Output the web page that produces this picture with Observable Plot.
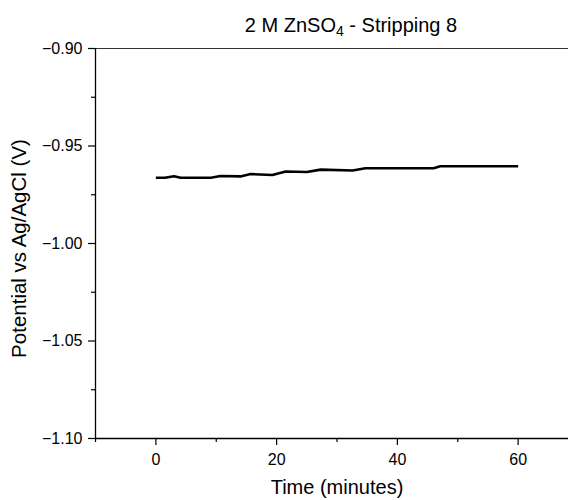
<!DOCTYPE html>
<html>
<head>
<meta charset="utf-8">
<script src="https://cdn.jsdelivr.net/npm/d3@7"></script>
<script src="https://cdn.jsdelivr.net/npm/@observablehq/plot@0.6"></script>
<style>
  html, body { margin: 0; padding: 0; overflow: hidden; background: #fff; }
  #wrap { position: relative; width: 568px; height: 500px; overflow: hidden; }
  #title {
    position: absolute; left: 151px; top: 15px; width: 400px;
    text-align: center; font: 20px "Liberation Sans", Arial, sans-serif;
    line-height: 20px; color: #000; z-index: 2;
  }
  #title sub { font-size: 70%; vertical-align: -0.3em; line-height: 0; }
</style>
</head>
<body>
<div id="wrap">
  <div id="title">2 M ZnSO<sub>4</sub> - Stripping 8</div>
</div>
<script>
// Stripping potential over time (minutes vs V against Ag/AgCl)
const times = [0, 1.5, 3.0, 4.1, 9.1, 10.7, 14.0, 15.7, 19.3, 21.5, 25.0, 27.3, 32.6, 34.7, 46.0, 47.1, 60];
const potentials = [-0.9663, -0.9663, -0.9655, -0.9663, -0.9663, -0.9654, -0.9656, -0.9644, -0.9649, -0.9631, -0.9633, -0.9621, -0.9626, -0.9614, -0.9614, -0.9604, -0.9604];

const xMajor = [0, 20, 40, 60];
const xMinor = [-10, 10, 30, 50, 70];
const yMajor = [-0.90, -0.95, -1.00, -1.05, -1.10];
const yMinor = [-0.925, -0.975, -1.025, -1.075];

const xLabel = "Time (minutes)";
const yLabel = "Potential vs Ag/AgCl (V)";

const data = times.map((t, i) => ({t, v: potentials[i]}));
const ink = "#000";

const chart = Plot.plot({
  width: 580,
  height: 500,
  marginLeft: 95,
  marginRight: 2,
  marginTop: 48,
  marginBottom: 62,
  style: {fontFamily: "'Liberation Sans', Arial, sans-serif", background: "transparent", color: ink},
  x: {domain: [-10, 70]},
  y: {domain: [-1.10, -0.90]},
  marks: [
    // frame
    Plot.ruleY([-0.90], {stroke: "#333", strokeWidth: 1.2}),
    Plot.ruleY([-1.10], {stroke: ink, strokeWidth: 1.3}),
    Plot.ruleX([-10], {stroke: ink, strokeWidth: 1.3}),
    Plot.ruleX([70], {stroke: "#333", strokeWidth: 1.2}),
    // axes
    Plot.axisY({ticks: yMajor, tickSize: 7, tickPadding: 6, tickFormat: d3.format(".2f"), fontSize: 16, label: null, strokeWidth: 1.2}),
    Plot.axisY({ticks: yMinor, tickSize: 4, tickFormat: () => "", label: null, strokeWidth: 1.2}),
    Plot.axisX({ticks: xMajor, tickSize: 7, tickPadding: 8, tickFormat: d3.format("d"), fontSize: 16, label: null, strokeWidth: 1.2}),
    Plot.axisX({ticks: xMinor, tickSize: 4, tickFormat: () => "", label: null, strokeWidth: 1.2}),
    // axis titles
    Plot.text([xLabel], {frameAnchor: "bottom", dy: 49, fontSize: 20, lineAnchor: "middle", textAnchor: "middle", fill: ink}),
    Plot.text([yLabel], {frameAnchor: "left", dx: -76, dy: 5, rotate: -90, fontSize: 20.5, lineAnchor: "middle", textAnchor: "middle", fill: ink}),
    // potential trace
    Plot.line(data, {x: "t", y: "v", stroke: ink, strokeWidth: 2.6, strokeLinejoin: "round", strokeLinecap: "butt"})
  ]
});

chart.style.maxWidth = "none";
chart.style.position = "absolute";
chart.style.left = "0px";
chart.style.top = "0px";
document.getElementById("wrap").appendChild(chart);
</script>
</body>
</html>
